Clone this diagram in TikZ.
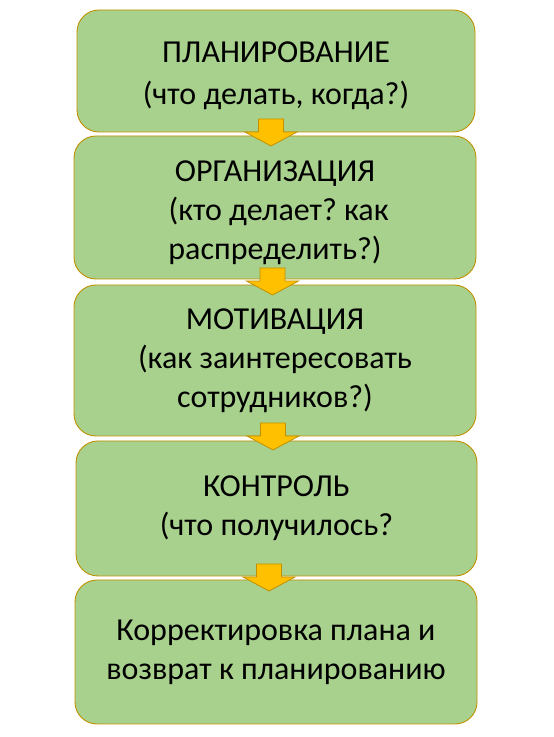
\documentclass[tikz,border=0pt]{standalone}
\usepackage{fontspec}
\setmainfont{Carlito}
\frenchspacing
\definecolor{boxfill}{HTML}{A9D18E}
\definecolor{goldline}{HTML}{BF9000}
\definecolor{arrowfill}{HTML}{FFC000}
\begin{document}
\begin{tikzpicture}[x=1pt,y=1pt,
  stagebox/.style={draw=goldline, line width=0.9pt, fill=boxfill, rounded corners=22pt,
    inner sep=0pt},
  stagetext/.style={align=center, inner sep=0pt, font=\fontsize{32}{39}\selectfont, text=black},
  blockarrow/.pic={
    \draw[draw=goldline, line width=0.8pt, fill=arrowfill, line join=miter]
      (-12.5,0) -- (12.5,0) -- (12.5,-13) -- (26,-13) -- (0,-27) -- (-26,-13) -- (-12.5,-13) -- cycle;
  }]
\useasboundingbox (0,0) rectangle (554,737);
\node[stagebox, minimum width=398, minimum height=122] (b1) at (276,666) {};
\node[stagebox, minimum width=402, minimum height=143] (b2) at (275,529.5) {};
\node[stagebox, minimum width=402, minimum height=151] (b3) at (275,376.5) {};
\node[stagebox, minimum width=401, minimum height=135] (b4) at (276.5,228.5) {};
\node[stagebox, minimum width=402, minimum height=144] (b5) at (276,85) {};
\node[stagetext] (t1) at ([yshift=-5pt]b1.center)
  {ПЛАНИРОВАНИЕ\\[3pt](что делать, когда?)};
\node[stagetext] (t2) at ([yshift=-5pt]b2.center)
  {ОРГАНИЗАЦИЯ\\ \ (кто делает? как\\распределить?)};
\node[stagetext] (t3) at (b3.center)
  {МОТИВАЦИЯ\\(как заинтересовать\\сотрудников?)};
\node[stagetext] (t4) at (b4.center)
  {КОНТРОЛЬ\\(что получилось?};
\node[stagetext] (t5) at (b5.center)
  {Корректировка плана и\\возврат к планированию};
\coordinate (a1) at (271,618);
\coordinate (a2) at (272.5,469);
\coordinate (a3) at (273,314);
\coordinate (a4) at (269,173);
\pic at (a1) {blockarrow};
\pic at (a2) {blockarrow};
\pic at (a3) {blockarrow};
\pic at (a4) {blockarrow};
\end{tikzpicture}
\end{document}
